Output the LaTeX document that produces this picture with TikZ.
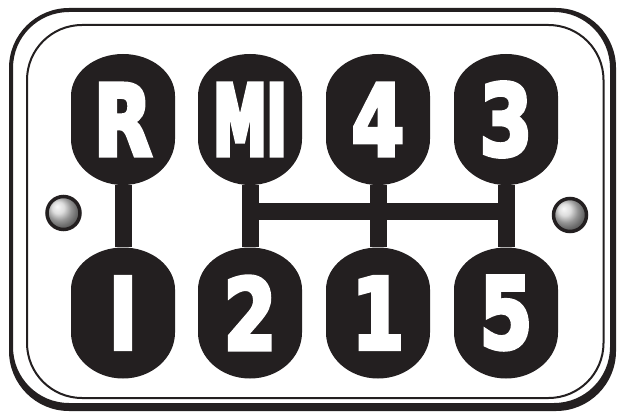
\documentclass[tikz,border=0pt]{standalone}
\usepackage{fontspec}
\usetikzlibrary{backgrounds}
\newfontfamily\knobfont[FakeStretch=0.76, FakeBold=4]{DejaVu Sans Bold}
\newfontfamily\knobfontnarrow[FakeStretch=0.54, FakeBold=4]{DejaVu Sans Bold}
\definecolor{knobblack}{HTML}{231F20}
\tikzset{
  knob/.style={minimum width=104pt, minimum height=131pt, inner sep=0pt,
    text=white, font=\knobfont\fontsize{99}{99}\selectfont},
  shaft/.style={knobblack, line width=17pt},
  bolt/.style={circle, draw=knobblack, line width=3.5pt, minimum size=33pt,
    inner sep=0pt, ball color=gray!35},
}
\begin{document}
\begin{tikzpicture}[x=1pt,y=1pt]
\useasboundingbox (0,0) rectangle (617,413);
% plate
\fill[knobblack, even odd rule] [rounded corners=60pt] (9,2) rectangle (616,405)
  [rounded corners=56pt] (13,10) rectangle (610,401);
\draw[knobblack, line width=2pt, rounded corners=55pt] (27,15) rectangle (603.5,388);
% knobs
\node[knob] (rev) at (123,293.5) {R};
\node[knob, font=\knobfontnarrow\fontsize{99}{99}\selectfont] (mi) at (250,293.5) {MI};
\node[knob] (g4) at (378,293.5) {4};
\node[knob] (g3) at (506,293.5) {3};
\node[knob] (gI) at (123,100) {I};
\node[knob] (g2) at (250,100) {2};
\node[knob] (g1) at (378,100) {1};
\node[knob] (g5) at (506,100) {5};
\node[bolt] (boltL) at (63.5,200) {};
\node[bolt] (boltR) at (570,198) {};
\begin{pgfonlayer}{background}
  \foreach \k in {rev,mi,g4,g3,gI,g2,g1,g5}
    \fill[knobblack] (\k.center) ++(52,23.5)
      arc[start angle=0, end angle=180, x radius=52, y radius=42] -- ++(0,-43)
      arc[start angle=180, end angle=360, x radius=52, y radius=46] -- cycle;
  \draw[shaft] (rev) -- (gI);
  \draw[shaft] (mi) -- (g2);
  \draw[shaft] (g4) -- (g1);
  \draw[shaft] (g3) -- (g5);
  \coordinate (barL) at (250,201.5);
  \coordinate (barR) at (506,201.5);
  \draw[shaft] (barL) -- (barR);
\end{pgfonlayer}
\end{tikzpicture}
\end{document}
